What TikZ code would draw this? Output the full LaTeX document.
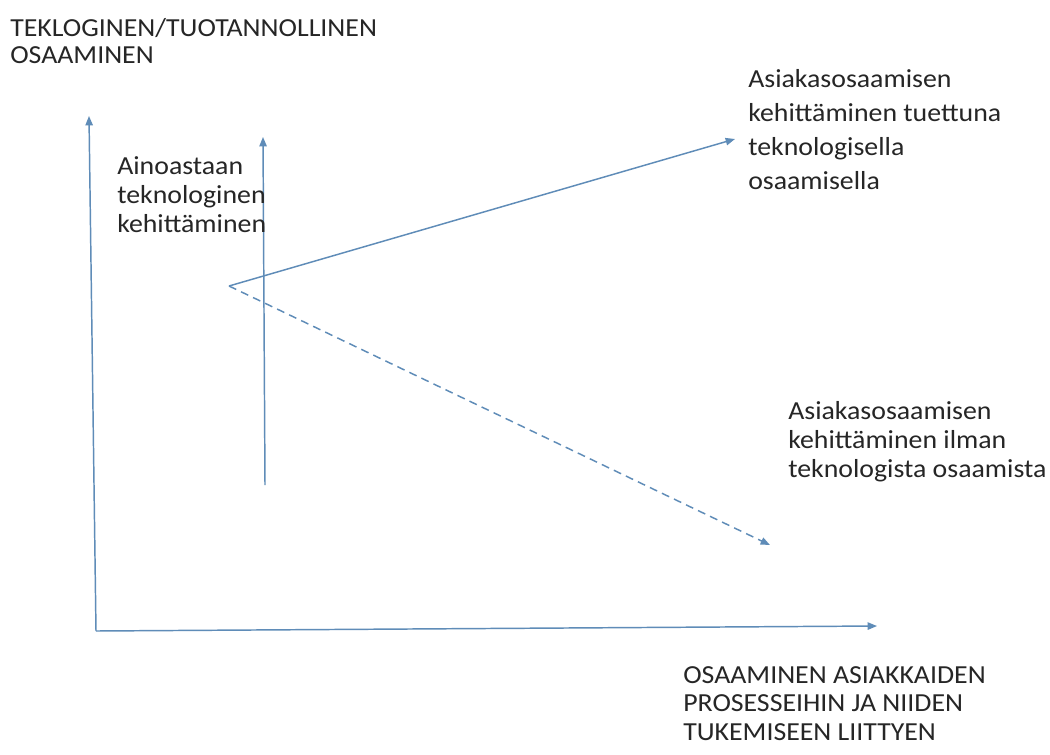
\documentclass[tikz,border=0pt]{standalone}
\usepackage{fontspec}
\setmainfont[FakeStretch=1.07]{Carlito}
\usetikzlibrary{arrows.meta}
\definecolor{linecol}{HTML}{5F8CB8}
\definecolor{txtcol}{HTML}{262626}
\newcommand{\lines}[1]{\begin{tabular}[t]{@{}l@{}}#1\end{tabular}}
\tikzset{
  arrowline/.style={draw=linecol, line width=1.1pt, -{Triangle[length=7pt,width=5.5pt]}},
  dashline/.style={arrowline, dash pattern=on 6pt off 4pt},
  lbl/.style={inner sep=0pt, anchor=base west, text=txtcol},
}
\begin{document}
\begin{tikzpicture}[x=0.75pt,y=-0.75pt]
  \useasboundingbox[fill=white] (0,0) rectangle (1050,754);

  % axes and trend arrows
  \coordinate (origin) at (96,631);
  \coordinate (ytip) at (89,116);
  \coordinate (xtip) at (877,626);
  \coordinate (vbase) at (265,485);
  \coordinate (vtip) at (263,137);
  \coordinate (fork) at (229,286);
  \coordinate (uptip) at (735,139);
  \coordinate (downtip) at (770,545);

  \draw[arrowline] (origin) -- (ytip);
  \draw[arrowline] (origin) -- (xtip);
  \draw[arrowline] (vbase) -- (vtip);
  \draw[arrowline] (fork) -- (uptip);
  \draw[dashline] (fork) -- (downtip);

  % labels
  \node[lbl, font=\fontsize{19.5}{20.25}\selectfont] (ylabel) at (10,36)
    {\lines{TEKLOGINEN/TUOTANNOLLINEN\\OSAAMINEN}};
  \node[lbl, font=\fontsize{19.5}{25.5}\selectfont] (uplabel) at (748,87)
    {\lines{Asiakasosaamisen\\kehittäminen tuettuna\\teknologisella\\osaamisella}};
  \node[lbl, font=\fontsize{19.5}{21.75}\selectfont] (vlabel) at (117,174)
    {\lines{Ainoastaan\\teknologinen\\kehittäminen}};
  \node[lbl, font=\fontsize{19.5}{21.75}\selectfont] (downlabel) at (788,419)
    {\lines{Asiakasosaamisen\\kehittäminen ilman\\teknologista osaamista}};
  \node[lbl, font=\fontsize{19.5}{21.4}\selectfont] (xlabel) at (683,683)
    {\lines{OSAAMINEN ASIAKKAIDEN\\PROSESSEIHIN JA NIIDEN\\TUKEMISEEN LIITTYEN}};
\end{tikzpicture}
\end{document}
